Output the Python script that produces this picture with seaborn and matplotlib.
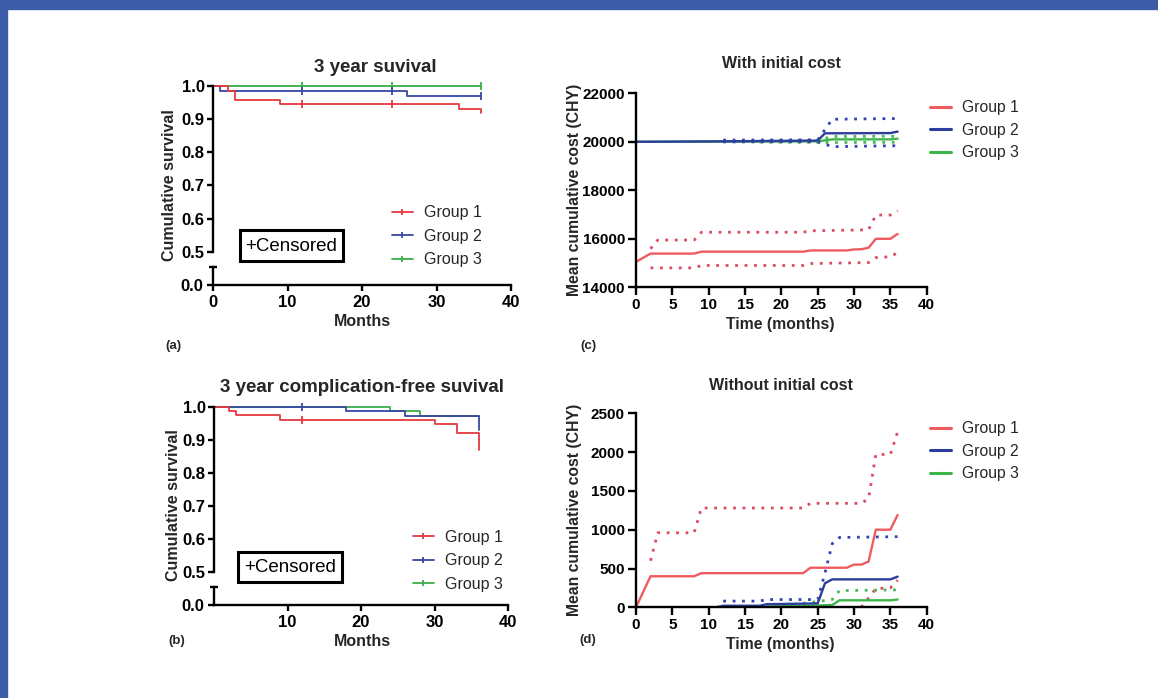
import numpy as np
import pandas as pd
import matplotlib
matplotlib.use('Agg')
import matplotlib.pyplot as plt
import seaborn as sns
from matplotlib.lines import Line2D
from matplotlib.patches import Rectangle

sns.set_theme(style='white')
plt.rcParams['font.family'] = ['Liberation Sans', 'DejaVu Sans']

# ---------------- data ----------------
groups = ['Group 1', 'Group 2', 'Group 3']

# (a) 3 year survival (Kaplan-Meier steps)
a_g1_t = [0, 2, 3, 9, 33, 36]
a_g1_s = [1.0, 0.986, 0.958, 0.946, 0.932, 0.920]
a_g1_cens = [12, 24]
a_g2_t = [0, 1, 26, 36]
a_g2_s = [1.0, 0.985, 0.970, 0.970]
a_g2_cens = [12, 24, 36]
a_g3_t = [0, 36]
a_g3_s = [1.0, 1.0]
a_g3_cens = [12, 24, 36]

# (b) 3 year complication-free survival
b_g1_t = [0, 2, 3, 9, 30, 33, 36]
b_g1_s = [1.0, 0.987, 0.974, 0.960, 0.948, 0.920, 0.868]
b_g1_cens = [12]
b_g2_t = [0, 18, 26, 36]
b_g2_s = [1.0, 0.987, 0.973, 0.928]
b_g2_cens = [12]
b_g3_t = [0, 24, 28, 36]
b_g3_s = [1.0, 0.987, 0.973, 0.973]
b_g3_cens = []

# (c) mean cumulative cost with initial cost
c_g1_t = [0, 2, 8, 9, 23, 24, 29, 30, 31, 32, 33, 35, 36]
c_g1_m = [15050, 15390, 15390, 15470, 15470, 15520, 15520, 15560, 15570, 15630, 16000, 16000, 16200]
c_g1_hi_t = [2, 3, 8, 9, 23, 24, 32, 33, 35, 36]
c_g1_hi = [15590, 15950, 15950, 16270, 16270, 16330, 16370, 16980, 16980, 17160]
c_g1_lo_t = [2, 8, 9, 23, 24, 32, 33, 35, 36]
c_g1_lo = [14800, 14800, 14900, 14900, 14980, 15020, 15225, 15260, 15430]

c_g2_t = [0, 12, 25, 26, 35, 36]
c_g2_m = [20000, 20020, 20050, 20350, 20360, 20420]
c_g2_hi_t = [12, 25, 26, 27, 36]
c_g2_hi = [20070, 20080, 20500, 20930, 20960]
c_g2_lo_t = [12, 25, 27, 36]
c_g2_lo = [19995, 20000, 19800, 19840]

c_g3_t = [0, 17, 25, 27, 35, 36]
c_g3_m = [20000, 20010, 20020, 20100, 20100, 20130]
c_g3_hi_t = [17, 25, 27, 36]
c_g3_hi = [20030, 20060, 20220, 20230]
c_g3_lo_t = [17, 25, 27, 36]
c_g3_lo = [19990, 19980, 19970, 19980]

# (d) mean cumulative cost without initial cost
d_g1_t = [0, 2, 8, 9, 23, 24, 29, 30, 31, 32, 33, 35, 36]
d_g1_m = [0, 400, 400, 440, 440, 510, 510, 550, 550, 590, 1000, 1000, 1190]
d_g1_hi_t = [2, 3, 8, 9, 23, 24, 31, 32, 33, 35, 36]
d_g1_hi = [600, 960, 960, 1280, 1280, 1340, 1340, 1400, 1970, 1970, 2260]
d_g1_lo_t = [31, 33, 35, 36]
d_g1_lo = [0, 240, 250, 350]

d_g2_t = [0, 11, 12, 17, 18, 25, 26, 27, 35, 36]
d_g2_m = [0, 0, 20, 20, 40, 50, 310, 360, 360, 395]
d_g2_hi_t = [12, 17, 18, 25, 26, 27, 28, 36]
d_g2_hi = [80, 80, 100, 100, 440, 820, 900, 910]

d_g3_t = [0, 17, 18, 24, 27, 28, 35, 36]
d_g3_m = [0, 0, 10, 20, 30, 90, 90, 100]
d_g3_hi_t = [23, 27, 28, 36]
d_g3_hi = [50, 100, 215, 225]

surv_ticks = [0.5, 0.6, 0.7, 0.8, 0.9, 1.0]
surv_labels = ['0.5', '0.6', '0.7', '0.8', '0.9', '1.0']
months_a = [0, 10, 20, 30, 40]
months_b = [10, 20, 30, 40]
cost_x = [0, 5, 10, 15, 20, 25, 30, 35, 40]
cost_c_y = [14000, 16000, 18000, 20000, 22000]
cost_d_y = [0, 500, 1000, 1500, 2000, 2500]

# ---------------- styles ----------------
RED_KM, BLUE_KM, GREEN_KM = '#e5393f', '#3848a4', '#3aae4a'
RED_C, BLUE_C, GREEN_C = '#ef5c60', '#2c3d9c', '#3db54b'
RED_D, BLUE_D, GREEN_D = '#dc4a5e', '#3142b4', '#48b857'
DOT = (0, (1, 2.4))

W, H = 1158, 698
fig = plt.figure(figsize=(W / 100, H / 100), dpi=100)
fig.patch.set_facecolor('white')

# blue frame
fig.patches.append(Rectangle((0, 1 - 9 / H), 1, 9 / H, transform=fig.transFigure,
                             color='#3c5ca8', zorder=0))
fig.patches.append(Rectangle((0, 0), 7 / W, 1, transform=fig.transFigure,
                             color='#3c5ca8', zorder=0))


def ax_px(l, t, r, b):
    return fig.add_axes([l / W, 1 - b / H, (r - l) / W, (b - t) / H])


def fx(x):
    return x / W


def fy(y):
    return 1 - y / H


SPW = 1.7


def style_axes(ax, left=True, bottom=True):
    for s in ['top', 'right']:
        ax.spines[s].set_visible(False)
    ax.spines['left'].set_visible(left)
    ax.spines['bottom'].set_visible(bottom)
    for s in ['left', 'bottom']:
        ax.spines[s].set_linewidth(SPW)
        ax.spines[s].set_color('black')
    ax.set_facecolor('none')
    ax.grid(False)


def bold_ticks(ax):
    for lab in ax.get_xticklabels() + ax.get_yticklabels():
        lab.set_fontweight('bold')


def km_panel(top, low, series, cens, xt):
    axt = ax_px(*top)
    axl = ax_px(*low)
    for ax in (axt, axl):
        ax.set_xlim(0, 40)
    axt.set_ylim(0.5, 1.0)
    axl.set_ylim(0, 0.055)
    style_axes(axt, left=True, bottom=False)
    style_axes(axl, left=True, bottom=True)
    for (t, s, c), ct in zip(series, cens):
        sns.lineplot(x=t, y=s, ax=axt, color=c, lw=1.3, drawstyle='steps-post',
                     estimator=None, sort=False)
        if len(ct):
            t_arr = np.array(t)
            cy = [s[np.searchsorted(t_arr, v, side='right') - 1] for v in ct]
            sns.lineplot(x=ct, y=cy, ax=axt, color=c, lw=0, marker='|', markersize=6,
                         markeredgewidth=1.3, markeredgecolor=c, markerfacecolor=c,
                         estimator=None, sort=False)
    for ln in axt.lines:
        ln.set_clip_on(False)
    axt.set_xticks([])
    axt.set_yticks(surv_ticks)
    axt.set_yticklabels(surv_labels)
    axt.tick_params(axis='y', left=True, length=4.5, width=SPW, pad=1.5, labelsize=12,
                    color='black', labelcolor='black')
    axl.set_yticks([0.0])
    axl.set_yticklabels(['0.0'])
    axl.set_xticks(xt)
    axl.set_xticklabels([str(v) for v in xt])
    axl.tick_params(axis='both', left=True, bottom=True, length=4.5, width=SPW, pad=2.5,
                    labelsize=12, color='black', labelcolor='black')
    axl.plot([-0.013, 0.013], [1, 1], transform=axl.transAxes, color='black', lw=SPW,
             clip_on=False, solid_capstyle='butt')
    for ax in (axt, axl):
        ax.set_xlabel('')
        ax.set_ylabel('')
        bold_ticks(ax)
    return axt, axl


def km_legend(ax, colors, x_left, y_top):
    handles = [Line2D([0], [0], color=c, lw=1.3, marker='|', markersize=5,
                      markeredgewidth=1.3) for c in colors]
    leg = ax.legend(handles, groups, loc='upper left',
                    bbox_to_anchor=(fx(x_left), fy(y_top)), bbox_transform=fig.transFigure,
                    frameon=False, fontsize=11.5, handlelength=1.3, handletextpad=0.7,
                    labelspacing=0.52, borderpad=0, borderaxespad=0, numpoints=1)
    for tx in leg.get_texts():
        tx.set_fontweight('normal')


def censored_box(l, t, r, b):
    fig.patches.append(Rectangle((fx(l), fy(b)), (r - l) / W, (b - t) / H,
                                 transform=fig.transFigure, fill=False, ec='black',
                                 lw=2.2, zorder=5))
    fig.text(fx((l + r) / 2), fy((t + b) / 2 + 1), '+Censored', ha='center', va='center',
             fontsize=13.5, color='black')


# ---------------- (a) ----------------
axa, axa_l = km_panel((213, 86, 511, 251.7), (213, 267, 511, 285),
                      [(a_g3_t, a_g3_s, GREEN_KM), (a_g2_t, a_g2_s, BLUE_KM),
                       (a_g1_t, a_g1_s, RED_KM)],
                      [a_g3_cens, a_g2_cens, a_g1_cens], months_a)
km_legend(axa, [RED_KM, BLUE_KM, GREEN_KM], 392, 205.5)
censored_box(240, 230, 343, 261)
fig.text(fx(375), fy(67), '3 year suvival', ha='center', va='center', fontsize=13.5,
         fontweight='bold')
fig.text(fx(169), fy(185), 'Cumulative survival', ha='center', va='center', rotation=90,
         fontsize=11.5, fontweight='bold')
fig.text(fx(362), fy(322), 'Months', ha='center', va='center', fontsize=11.5,
         fontweight='bold')
fig.text(fx(173), fy(346), '(a)', ha='center', va='center', fontsize=9.5, fontweight='bold')

# ---------------- (b) ----------------
axb, axb_l = km_panel((214, 406.7, 508, 571.7), (214, 586.7, 508, 605),
                      [(b_g3_t, b_g3_s, GREEN_KM), (b_g2_t, b_g2_s, BLUE_KM),
                       (b_g1_t, b_g1_s, RED_KM)],
                      [b_g3_cens, b_g2_cens, b_g1_cens], months_b)
axb_l.spines['bottom'].set_linestyle((0, (2.5, 1)))
km_legend(axb, [RED_KM, BLUE_KM, GREEN_KM], 413, 530)
censored_box(238, 551.7, 341.7, 581.7)
fig.text(fx(362), fy(387), '3 year complication-free suvival', ha='center', va='center',
         fontsize=13.5, fontweight='bold')
fig.text(fx(174), fy(505), 'Cumulative survival', ha='center', va='center', rotation=90,
         fontsize=11.5, fontweight='bold')
fig.text(fx(362), fy(642), 'Months', ha='center', va='center', fontsize=11.5,
         fontweight='bold')
fig.text(fx(177), fy(641), '(b)', ha='center', va='center', fontsize=9.5, fontweight='bold')


# ---------------- cost panels ----------------
def cost_panel(box, ylim, yt, series):
    ax = ax_px(*box)
    style_axes(ax)
    ax.set_xlim(0, 40)
    ax.set_ylim(*ylim)
    for t, v, c, ls, lw in series:
        sns.lineplot(x=t, y=v, ax=ax, color=c, lw=lw, linestyle=ls, estimator=None,
                     sort=False)
    ax.set_xticks(cost_x)
    ax.set_xticklabels([str(v) for v in cost_x])
    ax.set_yticks(yt)
    ax.set_yticklabels([str(v) for v in yt])
    ax.tick_params(axis='both', left=True, bottom=True, length=6, width=SPW, pad=2,
                   labelsize=11, color='black', labelcolor='black')
    ax.set_xlabel('')
    ax.set_ylabel('')
    bold_ticks(ax)
    return ax


def cost_legend(ax, y_top):
    handles = [Line2D([0], [0], color=c, lw=2.2) for c in [RED_C, BLUE_C, GREEN_C]]
    leg = ax.legend(handles, groups, loc='upper left',
                    bbox_to_anchor=(fx(930), fy(y_top)), bbox_transform=fig.transFigure,
                    frameon=False, fontsize=11.3, handlelength=1.33, handletextpad=0.7,
                    labelspacing=0.48, borderpad=0, borderaxespad=0)
    for tx in leg.get_texts():
        tx.set_fontweight('normal')


axc = cost_panel((636, 93.3, 926.7, 287.3), (14000, 22000), cost_c_y, [
    (c_g1_hi_t, c_g1_hi, RED_D, DOT, 2.0),
    (c_g1_lo_t, c_g1_lo, RED_D, DOT, 2.0),
    (c_g1_t, c_g1_m, RED_C, '-', 1.7),
    (c_g3_hi_t, c_g3_hi, GREEN_D, DOT, 2.0),
    (c_g3_lo_t, c_g3_lo, GREEN_D, DOT, 2.0),
    (c_g3_t, c_g3_m, GREEN_C, '-', 1.7),
    (c_g2_hi_t, c_g2_hi, BLUE_D, DOT, 2.0),
    (c_g2_lo_t, c_g2_lo, BLUE_D, DOT, 2.0),
    (c_g2_t, c_g2_m, BLUE_C, '-', 1.7),
])
cost_legend(axc, 100)
fig.text(fx(781), fy(63), 'With initial cost', ha='center', va='center', fontsize=11.5,
         fontweight='bold')
fig.text(fx(575), fy(190), 'Mean cumulative cost (CHY)', ha='center', va='center',
         rotation=90, fontsize=11.3, fontweight='bold')
fig.text(fx(780), fy(324), 'Time (months)', ha='center', va='center', fontsize=11.3,
         fontweight='bold')
fig.text(fx(588), fy(346), '(c)', ha='center', va='center', fontsize=9.5, fontweight='bold')

axd = cost_panel((636, 413.3, 926.7, 607.3), (0, 2500), cost_d_y, [
    (d_g1_hi_t, d_g1_hi, RED_D, DOT, 2.0),
    (d_g1_lo_t, d_g1_lo, RED_D, DOT, 2.0),
    (d_g1_t, d_g1_m, RED_C, '-', 1.7),
    (d_g3_hi_t, d_g3_hi, GREEN_D, DOT, 2.0),
    (d_g3_t, d_g3_m, GREEN_C, '-', 1.7),
    (d_g2_hi_t, d_g2_hi, BLUE_D, DOT, 2.0),
    (d_g2_t, d_g2_m, BLUE_C, '-', 1.7),
])
cost_legend(axd, 421)
fig.text(fx(781), fy(385), 'Without initial cost', ha='center', va='center', fontsize=11.5,
         fontweight='bold')
fig.text(fx(575), fy(510), 'Mean cumulative cost (CHY)', ha='center', va='center',
         rotation=90, fontsize=11.3, fontweight='bold')
fig.text(fx(780), fy(644), 'Time (months)', ha='center', va='center', fontsize=11.3,
         fontweight='bold')
fig.text(fx(588), fy(640), '(d)', ha='center', va='center', fontsize=9.5, fontweight='bold')

fig.savefig('out.png', dpi=100, facecolor='white')
